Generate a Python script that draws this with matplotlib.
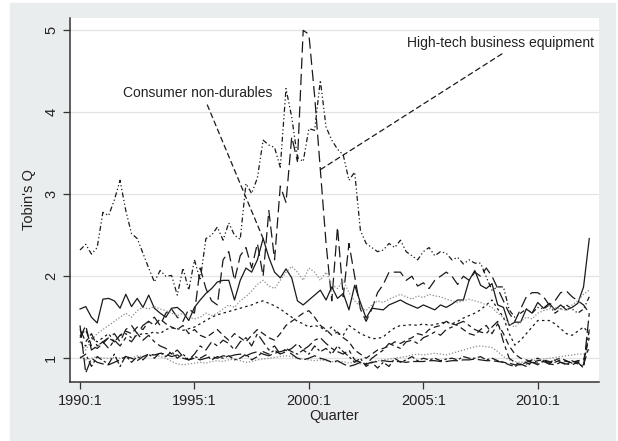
import matplotlib
matplotlib.use("Agg")
import matplotlib.pyplot as plt
from matplotlib.patches import Rectangle

plt.rcParams['font.family'] = ['Liberation Sans', 'DejaVu Sans']

# quarters 1990:1 .. 2012:2 (index 0 = 1990:1)
tick_pos = [0, 20, 40, 60, 80]
tick_lab = ["1990:1", "1995:1", "2000:1", "2005:1", "2010:1"]

consumer_nd = [1.60, 1.63, 1.50, 1.43, 1.72, 1.73, 1.70, 1.61, 1.78, 1.63,
               1.73, 1.62, 1.77, 1.61, 1.55, 1.50, 1.61, 1.62, 1.56, 1.46,
               1.62, 1.71, 1.79, 1.85, 1.93, 1.95, 1.95, 1.71, 1.95, 2.10,
               2.05, 2.20, 2.46, 2.23, 2.05, 1.98, 2.09, 1.98, 1.70, 1.65,
               1.71, 1.77, 1.83, 1.71, 1.87, 1.73, 1.79, 1.59, 1.89, 1.68,
               1.49, 1.61, 1.60, 1.59, 1.65, 1.68, 1.71, 1.67, 1.64, 1.61,
               1.65, 1.62, 1.59, 1.65, 1.62, 1.66, 1.71, 1.71, 1.95, 2.07,
               1.89, 1.85, 1.91, 1.65, 1.62, 1.40, 1.44, 1.44, 1.60, 1.55,
               1.68, 1.61, 1.67, 1.59, 1.65, 1.59, 1.62, 1.67, 1.87, 2.46]

hitech = [1.25, 1.40, 1.10, 1.15, 1.20, 1.25, 1.30, 1.20, 1.35, 1.40,
          1.30, 1.40, 1.45, 1.50, 1.40, 1.55, 1.60, 1.50, 1.45, 1.60,
          1.55, 2.10, 1.85, 1.70, 1.65, 2.20, 2.30, 1.95, 2.25, 2.35,
          2.10, 2.40, 2.00, 2.80, 2.20, 3.10, 2.90, 3.70, 3.40, 5.00,
          4.95, 4.20, 3.30, 2.40, 1.70, 2.60, 1.75, 2.40, 2.00, 1.60,
          1.45, 1.60, 1.80, 1.90, 2.05, 2.05, 2.05, 1.95, 2.00, 1.88,
          1.92, 1.85, 1.95, 2.00, 2.05, 2.00, 1.90, 2.00, 1.95, 2.05,
          2.00, 2.10, 2.00, 1.85, 1.70, 1.55, 1.45, 1.60, 1.75, 1.80,
          1.80, 1.75, 1.65, 1.70, 1.80, 1.82, 1.75, 1.70, 1.65, 1.55]

bus_eq = [2.32, 2.39, 2.27, 2.35, 2.78, 2.74, 2.93, 3.17, 2.80, 2.52,
          2.46, 2.28, 2.10, 1.93, 2.07, 2.00, 2.01, 1.77, 2.10, 1.83,
          2.20, 1.95, 2.46, 2.50, 2.60, 2.44, 2.65, 2.50, 2.45, 3.13,
          3.01, 3.20, 3.66, 3.60, 3.57, 3.33, 4.29, 3.94, 3.45, 3.40,
          3.80, 3.78, 4.39, 3.82, 3.66, 3.55, 3.48, 3.17, 3.27, 2.56,
          2.40, 2.35, 2.30, 2.32, 2.40, 2.35, 2.44, 2.30, 2.25, 2.20,
          2.30, 2.35, 2.25, 2.30, 2.28, 2.20, 2.23, 2.15, 2.20, 2.16,
          2.16, 1.99, 1.83, 1.87, 1.87, 1.59, 1.50, 1.55, 1.60, 1.55,
          1.62, 1.60, 1.65, 1.55, 1.60, 1.65, 1.60, 1.55, 1.60, 1.75]

shops = [1.20, 1.15, 1.25, 1.20, 1.25, 1.30, 1.20, 1.28, 1.30, 1.25,
         1.28, 1.30, 1.30, 1.32, 1.30, 1.35, 1.37, 1.36, 1.34, 1.36,
         1.38, 1.42, 1.46, 1.50, 1.53, 1.55, 1.57, 1.59, 1.61, 1.63,
         1.65, 1.68, 1.70, 1.67, 1.64, 1.60, 1.55, 1.50, 1.45, 1.42,
         1.38, 1.40, 1.38, 1.33, 1.38, 1.30, 1.28, 1.40, 1.35, 1.30,
         1.27, 1.24, 1.24, 1.26, 1.32, 1.37, 1.40, 1.40, 1.41, 1.40,
         1.42, 1.40, 1.41, 1.43, 1.44, 1.42, 1.45, 1.49, 1.52, 1.55,
         1.59, 1.65, 1.71, 1.60, 1.50, 1.30, 1.16, 1.22, 1.30, 1.38,
         1.46, 1.46, 1.46, 1.42, 1.36, 1.30, 1.28, 1.33, 1.38, 1.30]

health = [1.20, 1.10, 1.22, 1.30, 1.35, 1.40, 1.45, 1.50, 1.55, 1.50,
          1.58, 1.62, 1.60, 1.63, 1.60, 1.58, 1.55, 1.52, 1.55, 1.50,
          1.48, 1.50, 1.55, 1.52, 1.55, 1.60, 1.65, 1.62, 1.70, 1.75,
          1.82, 1.90, 1.95, 1.88, 1.85, 1.95, 2.05, 2.12, 2.05, 1.95,
          2.10, 2.05, 1.95, 2.05, 1.90, 1.85, 1.95, 1.80, 1.70, 1.62,
          1.58, 1.65, 1.70, 1.68, 1.72, 1.75, 1.78, 1.75, 1.72, 1.76,
          1.74, 1.78, 1.76, 1.75, 1.72, 1.70, 1.68, 1.70, 1.72, 1.70,
          1.68, 1.65, 1.62, 1.55, 1.50, 1.42, 1.38, 1.45, 1.50, 1.48,
          1.55, 1.58, 1.60, 1.62, 1.60, 1.58, 1.65, 1.70, 1.78, 1.83]

utils = [1.02, 0.98, 1.00, 1.02, 1.00, 1.00, 1.01, 1.00, 1.02, 1.00,
         1.03, 1.02, 1.03, 1.04, 1.02, 1.00, 0.96, 0.93, 0.92, 0.93,
         0.94, 0.95, 0.94, 0.96, 0.97, 0.96, 0.98, 0.99, 0.97, 0.95,
         0.96, 0.98, 0.99, 1.00, 1.01, 1.02, 1.03, 1.02, 1.00, 0.99,
         0.98, 0.97, 0.98, 0.97, 0.96, 0.95, 0.96, 0.94, 0.95, 0.93,
         0.94, 0.95, 0.97, 0.98, 0.99, 1.00, 1.01, 1.02, 1.04, 1.05,
         1.04, 1.05, 1.06, 1.05, 1.04, 1.06, 1.08, 1.10, 1.12, 1.14,
         1.15, 1.14, 1.13, 1.08, 1.02, 0.98, 0.96, 0.95, 0.96, 0.97,
         0.98, 0.99, 1.00, 1.01, 1.02, 1.03, 1.04, 1.05, 1.05, 1.10]

manuf = [1.27, 1.35, 1.15, 1.12, 1.18, 1.25, 1.20, 1.28, 1.33, 1.30,
         1.38, 1.35, 1.45, 1.40, 1.48, 1.42, 1.38, 1.35, 1.40, 1.30,
         1.35, 1.28, 1.25, 1.30, 1.35, 1.28, 1.22, 1.30, 1.25, 1.20,
         1.28, 1.35, 1.30, 1.25, 1.22, 1.30, 1.40, 1.45, 1.50, 1.55,
         1.58, 1.50, 1.40, 1.35, 1.28, 1.32, 1.25, 1.20, 1.10, 1.05,
         1.00, 1.05, 1.10, 1.12, 1.15, 1.20, 1.18, 1.22, 1.25, 1.30,
         1.28, 1.35, 1.38, 1.40, 1.45, 1.42, 1.40, 1.35, 1.30, 1.28,
         1.35, 1.40, 1.30, 1.42, 1.30, 1.15, 1.05, 1.00, 0.98, 0.95,
         0.97, 0.98, 0.96, 0.95, 0.98, 0.96, 0.95, 0.97, 0.98, 1.25]

energy = [1.40, 0.82, 1.00, 0.95, 0.93, 0.92, 0.95, 0.98, 1.02, 1.00,
          0.97, 1.02, 1.05, 1.04, 1.06, 1.05, 1.02, 1.04, 1.00, 0.98,
          1.00, 0.98, 1.00, 1.02, 1.00, 1.03, 1.02, 1.04, 1.05, 1.03,
          1.06, 1.08, 1.05, 1.03, 1.06, 1.08, 1.10, 1.05, 1.00, 0.98,
          1.00, 1.03, 1.00, 0.98, 0.95, 0.97, 0.93, 0.90, 0.92, 0.95,
          0.93, 0.95, 0.96, 0.97, 0.96, 0.96, 0.96, 0.95, 0.96, 0.96,
          0.96, 0.97, 0.97, 0.96, 0.96, 0.97, 0.97, 0.98, 0.98, 0.99,
          0.98, 0.97, 0.97, 0.96, 0.95, 0.94, 0.92, 0.92, 0.93, 0.95,
          0.94, 0.96, 0.93, 0.92, 0.95, 0.93, 0.92, 0.95, 0.88, 1.55]

chems = [1.00, 1.05, 0.90, 1.02, 0.97, 0.93, 1.05, 0.90, 1.03, 0.95,
         1.02, 0.98, 1.05, 1.00, 1.07, 1.02, 1.08, 1.00, 1.05, 0.98,
         1.02, 1.00, 1.04, 0.98, 1.02, 1.00, 1.03, 0.98, 1.00, 1.05,
         0.98, 1.02, 1.08, 1.05, 1.10, 1.05, 1.12, 1.08, 1.05, 1.10,
         1.05, 1.15, 1.08, 1.12, 1.05, 1.15, 1.08, 1.02, 0.95, 1.00,
         0.90, 0.95, 0.88, 0.95, 0.90, 1.00, 0.95, 0.98, 1.02, 0.97,
         1.00, 0.98, 1.00, 0.97, 0.99, 1.00, 0.98, 1.02, 1.00, 1.00,
         1.02, 0.98, 1.00, 0.97, 0.95, 0.92, 0.90, 0.93, 0.90, 0.95,
         0.92, 0.97, 0.93, 0.98, 0.95, 0.92, 0.97, 0.93, 0.90, 1.35]

telecom = [1.35, 1.20, 1.30, 1.15, 1.20, 1.12, 1.22, 1.15, 1.25, 1.20,
           1.30, 1.22, 1.28, 1.20, 1.15, 1.12, 1.05, 1.10, 1.02, 0.98,
           1.05, 1.15, 1.10, 1.20, 1.15, 1.22, 1.18, 1.10, 1.20, 1.25,
           1.15, 1.30, 1.20, 1.10, 1.15, 1.05, 1.08, 1.12, 1.18, 1.10,
           1.15, 1.22, 1.25, 1.18, 1.12, 1.08, 1.05, 1.10, 0.98, 0.95,
           0.92, 1.00, 1.05, 1.10, 1.18, 1.15, 1.12, 1.20, 1.22, 1.18,
           1.25, 1.28, 1.32, 1.28, 1.35, 1.38, 1.42, 1.45, 1.40, 1.35,
           1.32, 1.30, 1.38, 1.45, 1.20, 1.00, 0.95, 0.92, 0.95, 0.98,
           1.00, 0.97, 0.95, 0.98, 1.00, 0.97, 0.94, 0.96, 0.92, 1.15]

quarters = list(range(len(consumer_nd)))

black = '#1a1a1a'
grey = '#8c8c8c'
series = [
    (consumer_nd, black, '-'),
    (hitech, black, (0, (9, 4))),
    (bus_eq, black, (0, (4, 2, 1, 2, 1, 2))),
    (shops, black, (0, (2, 2.5))),
    (health, grey, (0, (1, 1.5))),
    (utils, grey, (0, (1, 1.5))),
    (manuf, black, (0, (5, 3))),
    (energy, black, (0, (10, 3))),
    (chems, black, (0, (6, 2, 2, 2))),
    (telecom, black, (0, (8, 3, 3, 3))),
]

fig = plt.figure(figsize=(6.18, 4.41), dpi=100)
fig.patches.append(Rectangle((10 / 618, 0), 605 / 618, 438 / 441,
                             transform=fig.transFigure, color='#eaeded', zorder=-10))
ax = fig.add_axes([70 / 618, 1 - 382 / 441, 529 / 618, 364 / 441])
ax.set_facecolor('white')

for vals, col, ls in series:
    ax.plot(quarters, vals, color=col, linestyle=ls, linewidth=0.9)

ax.set_xlim(-1.75, 90.7)
ax.set_ylim(0.71, 5.15)
ax.set_yticks([1, 2, 3, 4, 5])
ax.set_yticklabels(['1', '2', '3', '4', '5'], rotation=90, va='center')
ax.set_xticks(tick_pos)
ax.set_xticklabels(tick_lab)
ax.grid(axis='y', color='#e3e3e3', linewidth=0.9)
ax.set_axisbelow(True)
for s in ['top', 'right']:
    ax.spines[s].set_visible(False)
for s in ['left', 'bottom']:
    ax.spines[s].set_color('#333333')
    ax.spines[s].set_linewidth(1.1)
ax.tick_params(colors='#333333', labelcolor='#222222', labelsize=10.5, length=5, width=0.9)
ax.set_xlabel('Quarter', fontsize=10.5, color='#222222', labelpad=1)
ax.set_ylabel("Tobin's Q", fontsize=10.5, color='#222222', labelpad=6)

# labels for two industries
ax.annotate('Consumer non-durables', xy=(32, consumer_nd[32]), xytext=(7.5, 4.24),
            fontsize=10, color='#222222', va='center', ha='left',
            arrowprops=dict(arrowstyle='-', linestyle=(0, (4, 3)), color=black,
                            lw=0.9, relpos=(0.55, 0.0), shrinkA=2, shrinkB=0))
ax.annotate('High-tech business equipment', xy=(42, hitech[42]), xytext=(57.1, 4.85),
            fontsize=10, color='#222222', va='center', ha='left',
            arrowprops=dict(arrowstyle='-', linestyle=(0, (4, 3)), color=black,
                            lw=0.9, relpos=(0.545, 0.0), shrinkA=2, shrinkB=0))

fig.savefig('out.png', dpi=100)
